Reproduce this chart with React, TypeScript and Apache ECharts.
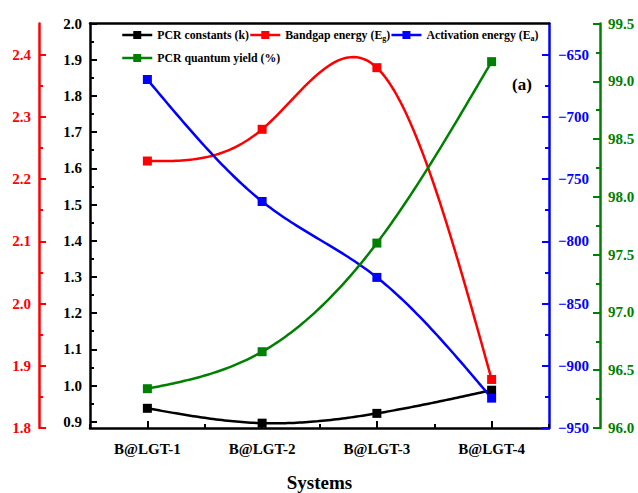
import React, { useEffect, useRef } from "react";
import * as echarts from "echarts";

const categories = ["B@LGT-1", "B@LGT-2", "B@LGT-3", "B@LGT-4"];
const pcrConstants = [0.937, 0.896, 0.923, 0.987];
const bandgapEnergy = [2.229, 2.28, 2.379, 1.878];
const activationEnergy = [-670, -768, -829, -926];
const quantumYield = [96.34, 96.66, 97.6, 99.17];

const blackTicks = [0.9, 1.0, 1.1, 1.2, 1.3, 1.4, 1.5, 1.6, 1.7, 1.8, 1.9, 2.0];
const blackMinor = [0.95, 1.05, 1.15, 1.25, 1.35, 1.45, 1.55, 1.65, 1.75, 1.85, 1.95];
const redTicks = [1.8, 1.9, 2.0, 2.1, 2.2, 2.3, 2.4];
const redMinor = [1.85, 1.95, 2.05, 2.15, 2.25, 2.35];
const blueTicks = [-950, -900, -850, -800, -750, -700, -650];
const blueMinor = [-925, -875, -825, -775, -725, -675];
const greenTicks = [96.0, 96.5, 97.0, 97.5, 98.0, 98.5, 99.0, 99.5];
const greenMinor = [96.25, 96.75, 97.25, 97.75, 98.25, 98.75, 99.25];

const NAMES = [
  "PCR constants (k)",
  "Bandgap energy (Eg)",
  "Activation energy (Ea)",
  "PCR quantum yield (%)",
];
const LEGEND_LABELS: Record<string, string> = {
  "PCR constants (k)": "PCR constants (k)",
  "Bandgap energy (Eg)": "Bandgap energy (E{sub|g})",
  "Activation energy (Ea)": "Activation energy (E{sub|a})",
  "PCR quantum yield (%)": "PCR quantum yield (%)",
};

const FONT = "Liberation Serif";
const BLACK = "#000000";
const RED = "#ff0000";
const BLUE = "#0000ff";
const GREEN = "#008000";

function valueAxis(
  color: string,
  position: "left" | "right",
  offset: number,
  min: number,
  max: number,
  ticks: number[],
  fmt: (v: number) => string,
  margin: number
) {
  return {
    type: "value",
    position,
    offset,
    min,
    max,
    axisLine: { show: true, onZero: false, lineStyle: { color, width: 2.5 } },
    axisTick: {
      show: true,
      inside: true,
      length: 7,
      customValues: ticks,
      lineStyle: { color, width: 2 },
    },
    axisLabel: {
      show: true,
      customValues: ticks,
      formatter: (v: number) => fmt(v),
      color,
      fontFamily: FONT,
      fontWeight: "bold",
      fontSize: 15,
      margin,
    },
    splitLine: { show: false },
  };
}

function minorAxis(
  color: string,
  position: "left" | "right",
  offset: number,
  min: number,
  max: number,
  ticks: number[]
) {
  return {
    type: "value",
    position,
    offset,
    min,
    max,
    axisLine: { show: false, onZero: false },
    axisTick: {
      show: true,
      inside: true,
      length: 4,
      customValues: ticks,
      lineStyle: { color, width: 2 },
    },
    axisLabel: { show: false },
    splitLine: { show: false },
  };
}

// natural cubic spline through pixel points (x strictly increasing), sampled for drawing
function splinePoints(pts: number[][], samples: number): number[][] {
  const n = pts.length;
  if (n < 3) return pts;
  const xs = pts.map((p) => p[0]);
  const ys = pts.map((p) => p[1]);
  const h: number[] = [];
  for (let i = 0; i < n - 1; i++) h.push(xs[i + 1] - xs[i]);
  const a: number[] = new Array(n).fill(0);
  const b: number[] = new Array(n).fill(1);
  const c: number[] = new Array(n).fill(0);
  const d: number[] = new Array(n).fill(0);
  for (let i = 1; i < n - 1; i++) {
    a[i] = h[i - 1];
    b[i] = 2 * (h[i - 1] + h[i]);
    c[i] = h[i];
    d[i] = 6 * ((ys[i + 1] - ys[i]) / h[i] - (ys[i] - ys[i - 1]) / h[i - 1]);
  }
  for (let i = 1; i < n; i++) {
    const m = a[i] / b[i - 1];
    b[i] -= m * c[i - 1];
    d[i] -= m * d[i - 1];
  }
  const M: number[] = new Array(n).fill(0);
  M[n - 1] = d[n - 1] / b[n - 1];
  for (let i = n - 2; i >= 0; i--) M[i] = (d[i] - c[i] * M[i + 1]) / b[i];
  const out: number[][] = [];
  for (let i = 0; i < n - 1; i++) {
    for (let s = 0; s < samples; s++) {
      const t = s / samples;
      const x = xs[i] + t * h[i];
      const A = 1 - t;
      const B = t;
      const y =
        A * ys[i] +
        B * ys[i + 1] +
        (((A * A * A - A) * M[i] + (B * B * B - B) * M[i + 1]) * h[i] * h[i]) / 6;
      out.push([x, y]);
    }
  }
  out.push([xs[n - 1], ys[n - 1]]);
  return out;
}

export default function App() {
  const ref = useRef<HTMLDivElement>(null);

  useEffect(() => {
    if (!ref.current) return;
    const chart = echarts.init(ref.current, undefined, { renderer: "svg" });

    const legendText = {
      fontFamily: FONT,
      fontWeight: "bold",
      fontSize: 11.8,
      color: BLACK,
      rich: {
        sub: {
          fontFamily: FONT,
          fontWeight: "bold",
          fontSize: 8,
          padding: [7, 0, 0, 0],
        },
      },
    };

    const curveSeries = (color: string, data: number[], yAxisIndex: number) => ({
      type: "custom",
      name: "curve" + yAxisIndex,
      xAxisIndex: 0,
      yAxisIndex,
      data: data.map((v, i) => [i, v]),
      silent: true,
      z: 1,
      renderItem: (params: any, api: any) => {
        if (params.dataIndex !== 0) return null;
        const pts = data.map((v, i) => api.coord([i, v]));
        return {
          type: "polyline",
          shape: { points: splinePoints(pts, 40) },
          style: { stroke: color, lineWidth: 2.5, fill: null },
        };
      },
    });

    const markerSeries = (name: string, color: string, data: number[], yAxisIndex: number) => ({
      name,
      type: "line",
      data,
      xAxisIndex: 0,
      yAxisIndex,
      symbol: "rect",
      symbolSize: 9,
      z: 3,
      lineStyle: { color, width: 2.5, opacity: 0 },
      itemStyle: { color },
    });

    const legendBase = {
      left: 121,
      itemWidth: 30,
      itemHeight: 10,
      itemGap: 0,
      padding: 0,
      lineStyle: { width: 2.5, opacity: 1 },
      formatter: (n: string) => LEGEND_LABELS[n],
      textStyle: legendText,
    };

    chart.setOption({
      animation: false,
      backgroundColor: "#ffffff",
      grid: {
        left: 90,
        right: 89,
        top: 23.5,
        bottom: 65,
        containLabel: false,
        outerBoundsMode: "none",
      },
      legend: [
        { ...legendBase, data: [NAMES[0], NAMES[1], NAMES[2]], top: 29 },
        { ...legendBase, data: [NAMES[3]], top: 52 },
      ],
      xAxis: [
        {
          type: "category",
          position: "bottom",
          data: categories,
          boundaryGap: true,
          axisLine: { show: true, onZero: false, lineStyle: { color: BLACK, width: 2.5 } },
          axisTick: {
            show: true,
            inside: true,
            alignWithLabel: true,
            length: 7,
            lineStyle: { color: BLACK, width: 2 },
          },
          axisLabel: {
            color: BLACK,
            fontFamily: FONT,
            fontWeight: "bold",
            fontSize: 15,
            margin: 13,
          },
          name: "Systems",
          nameLocation: "middle",
          nameGap: 45,
          nameTextStyle: {
            color: BLACK,
            fontFamily: FONT,
            fontWeight: "bold",
            fontSize: 19,
          },
          splitLine: { show: false },
        },
        {
          type: "category",
          position: "bottom",
          data: categories,
          boundaryGap: true,
          axisLine: { show: false, onZero: false },
          axisTick: {
            show: true,
            inside: true,
            alignWithLabel: false,
            length: 4,
            lineStyle: { color: BLACK, width: 2 },
          },
          axisLabel: { show: false },
          splitLine: { show: false },
        },
        {
          type: "category",
          position: "top",
          data: categories,
          boundaryGap: true,
          axisLine: { show: true, onZero: false, lineStyle: { color: BLACK, width: 2.5 } },
          axisTick: { show: false },
          axisLabel: { show: false },
          splitLine: { show: false },
        },
      ],
      yAxis: [
        valueAxis(BLACK, "left", 0, 0.8826, 2.0, blackTicks, (v) => v.toFixed(1), 8),
        minorAxis(BLACK, "left", 0, 0.8826, 2.0, blackMinor),
        valueAxis(RED, "left", 51, 1.8, 2.45, redTicks, (v) => v.toFixed(1), 8),
        minorAxis(RED, "left", 51, 1.8, 2.45, redMinor),
        valueAxis(BLUE, "right", 0, -950, -625, blueTicks, (v) => String(Math.round(v)).replace("-", "\u2212"), 9),
        minorAxis(BLUE, "right", 0, -950, -625, blueMinor),
        valueAxis(GREEN, "right", 51, 96, 99.5, greenTicks, (v) => v.toFixed(1), 8),
        minorAxis(GREEN, "right", 51, 96, 99.5, greenMinor),
      ],
      graphic: [
        {
          type: "text",
          left: 512,
          top: 76,
          style: {
            text: "(a)",
            fontFamily: FONT,
            fontWeight: "bold",
            fontSize: 17,
            fill: BLACK,
          },
        },
      ],
      series: [
        curveSeries(BLACK, pcrConstants, 0),
        curveSeries(RED, bandgapEnergy, 2),
        curveSeries(BLUE, activationEnergy, 4),
        curveSeries(GREEN, quantumYield, 6),
        markerSeries(NAMES[0], BLACK, pcrConstants, 0),
        markerSeries(NAMES[1], RED, bandgapEnergy, 2),
        markerSeries(NAMES[2], BLUE, activationEnergy, 4),
        markerSeries(NAMES[3], GREEN, quantumYield, 6),
      ],
    });

    return () => chart.dispose();
  }, []);

  return (
    <div
      ref={ref}
      style={{ position: "absolute", left: 0, top: 0, width: 638, height: 493 }}
    />
  );
}
